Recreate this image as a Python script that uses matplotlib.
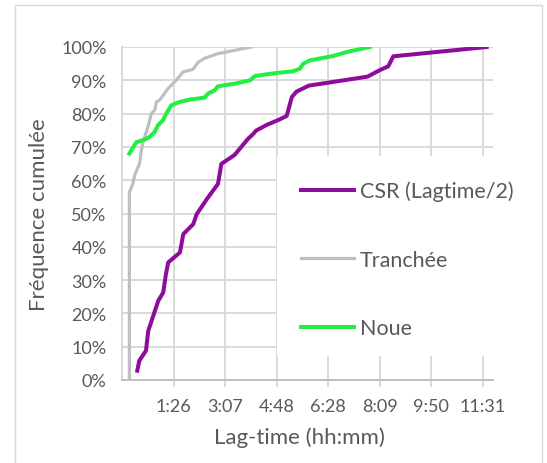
import matplotlib.pyplot as plt
from matplotlib.ticker import FuncFormatter, PercentFormatter
from matplotlib.patches import Rectangle

plt.rcParams['font.family'] = ['Lato', 'DejaVu Sans']

# lag-time en minutes, frequence cumulee en %
csr_t = [15.5, 19.4, 32.5, 37, 46.8, 56.6, 66.3, 71, 76, 99, 105.5, 125, 131.7,
         152.4, 173.4, 180, 206, 232, 242.5, 248, 268.7, 294.7, 307.8, 318,
         327, 351, 466, 490.6, 506.6, 516.4, 699]
csr_f = [2.8, 5.8, 8.8, 14.8, 19.3, 23.8, 26.3, 31.3, 35.3, 38.3, 43.8, 46.8, 49.8,
         54.5, 58.9, 64.9, 67.6, 72.4, 73.9, 74.9, 76.6, 78.3, 79.3, 85.0,
         86.6, 88.4, 91.1, 93.1, 94.2, 97.2, 100]

tr_t = [0, 0, 7, 10.4, 20, 23, 26.6, 36.4, 43, 49.5, 53, 59, 75.5, 91.8, 105,
        124.5, 134.5, 147, 173, 206, 238.5]
tr_f = [0, 56.3, 59, 61.5, 65, 68.5, 71.4, 76, 80, 81, 83.5, 84, 87.5, 90, 92.5,
        93.3, 95.4, 96.6, 98, 99, 100]

noue_t = [0, 13.5, 30, 39.7, 49.5, 56, 65.8, 72.2, 82, 98.4, 118, 147.4, 153.8,
          167, 173.4, 206.7, 236, 245.8, 288.3, 320.7, 333.7, 340.3, 353.4, 399,
          425.2, 470.8]
noue_f = [68, 71.4, 72.2, 73, 74.5, 76.5, 78, 80, 82.5, 83.5, 84.2, 84.8, 86,
          87, 88.2, 89, 90, 91.3, 92.2, 92.7, 93.5, 95, 96, 97.3, 98.5, 100]

# graduations excel: 0.07 jour a partir de -0.01
xticks = [86.4 + 100.8 * k for k in range(7)]

fig = plt.figure(figsize=(5.47, 4.64), dpi=100)
ax = fig.add_axes([122 / 547, 83 / 464, 371 / 547, 333 / 464])

l1, = ax.plot(csr_t, csr_f, color='#8E0C9C', lw=2.9, label='CSR (Lagtime/2)', zorder=3)
l2, = ax.plot(tr_t, tr_f, color='#BFBFBF', lw=2.3, label='Tranchée', zorder=3)
l3, = ax.plot(noue_t, noue_f, color='#22EE44', lw=2.9, label='Noue', zorder=3)

ax.set_xlim(-14.4, 711.5)
ax.set_ylim(0, 100)
ax.set_xticks(xticks)
ax.set_yticks(range(0, 101, 10))
ax.xaxis.set_major_formatter(FuncFormatter(lambda v, p: f"{int(v) // 60}:{int(v) % 60:02d}"))
ax.yaxis.set_major_formatter(PercentFormatter(decimals=0))

ax.grid(True, color='#D9D9D9', lw=1.4)
ax.set_axisbelow(True)
for s in ['top', 'right']:
    ax.spines[s].set_visible(False)
ax.spines['left'].set_color('#D9D9D9')
ax.spines['bottom'].set_color('#BFBFBF')
ax.spines['left'].set_linewidth(1.4)
ax.spines['bottom'].set_linewidth(1.4)
ax.tick_params(axis='x', length=5, width=1.4, color='#D9D9D9', pad=8,
               labelsize=13, labelcolor='#595959')
ax.tick_params(axis='y', length=0, pad=11, labelsize=13, labelcolor='#595959')

ax.set_xlabel('Lag-time (hh:mm)', fontsize=16, color='#595959')
ax.set_ylabel('Fréquence cumulée', fontsize=16, color='#595959')
ax.xaxis.set_label_coords(0.477, -0.14)
ax.yaxis.set_label_coords(-0.196, 0.5)

# fond blanc de la legende
ax.add_patch(Rectangle((0.418, 0.072), 0.64, 0.601, transform=ax.transAxes,
                       facecolor='white', edgecolor='none', zorder=2, clip_on=False))
leg = ax.legend(handles=[l1, l2, l3], loc='upper left', bbox_to_anchor=(0.458, 0.624),
                frameon=False, fontsize=15.5, handlelength=2.5, handletextpad=0.25,
                labelspacing=2.25, borderaxespad=0, labelcolor='#595959')

# cadre du graphique
fig.patches.append(Rectangle((15 / 547, -0.02), 527 / 547, 1.0 - 6 / 464 + 0.02,
                             transform=fig.transFigure, fill=False,
                             edgecolor='#D9D9D9', lw=1))

fig.savefig('out.png', dpi=100)
